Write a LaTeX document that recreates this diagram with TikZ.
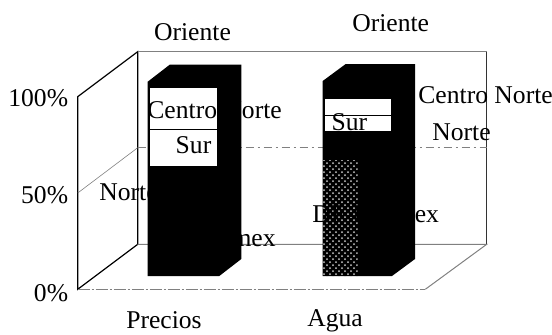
\documentclass[tikz,border=0pt]{standalone}
\usepackage{fontspec}
\setmainfont{Liberation Serif}
\usetikzlibrary{patterns}
\begin{document}
\begin{tikzpicture}[x=0.5pt,y=-0.5pt,
    lbl/.style={inner sep=0pt,font=\fontsize{12.8}{15}\selectfont},
    wall/.style={line width=0.6pt},
    grid/.style={gray,line width=0.5pt},
    seg/.style={fill=white,draw=black,line width=0.4pt}]
  \useasboundingbox (0,0) rectangle (552,334);
  % walls and floor
  \draw[wall] (77.7,96.7) -- (137.7,51.7) -- (137.7,244.3) -- (77.7,289.3) -- cycle;
  \draw[grid] (137.7,51.7) -- (486.7,51.7);
  \draw[wall,black!80] (486.7,51.7) -- (486.7,244.3);
  \draw[grid] (137.7,244.3) -- (486.7,244.3) -- (425.3,289.3);
  \draw[grid,dash pattern=on 6pt off 1pt on 1pt off 1pt] (77.7,289.3) -- (425.3,289.3);
  \draw[grid,line width=0.3pt] (77.7,193) -- (137.7,147.7);
  \draw[grid,line width=0.4pt,dash pattern=on 4pt off 2pt on 1pt off 2pt] (137.7,147.7) -- (486.7,147.7);
  % bars
  \fill (147.7,276) -- (147.7,81.7) -- (169.7,64.7) -- (241.3,64.7)
    -- (241.3,259) -- (219.3,276) -- cycle;
  \draw[seg] (149.3,87.7) rectangle (217.3,129.3);
  \draw[seg] (149.3,129.3) rectangle (217.3,166);
  \fill (322.7,276) -- (322.7,81) -- (345.7,64) -- (415,64)
    -- (415,259) -- (392,276) -- cycle;
  \draw[seg] (324,98.3) rectangle (391.7,115);
  \draw[seg] (324,115) rectangle (391.7,131.7);
  \fill[pattern=crosshatch dots,pattern color=gray!40] (323,160) rectangle (357.7,276);
  % labels
  \draw
    (68.5,106) node[lbl,anchor=base east] (p100){100\%}
    (68.5,203) node[lbl,anchor=base east] (p50){50\%}
    (68.5,301.7) node[lbl,anchor=base east] (p0){0\%}
    (164,328.5) node[lbl,anchor=base] (precios){Precios}
    (335,326.5) node[lbl,anchor=base] (agua){Agua};
  \draw
    (192.5,40) node[lbl,anchor=base] (or1){Oriente}
    (147,118) node[lbl,anchor=base west] (cn1){Centro Norte}
    (211.7,153) node[lbl,anchor=base east] (sur1){Sur}
    (99,200) node[lbl,anchor=base west] (no1){Norte}
    (276,246.7) node[lbl,anchor=base east] (df1){DF-Edomex};
  \draw
    (390.7,31.7) node[lbl,anchor=base] (or2){Oriente}
    (418,103) node[lbl,anchor=base west] (cn2){Centro Norte}
    (349.3,130.5) node[lbl,anchor=base] (sur2){Sur}
    (432,140) node[lbl,anchor=base west] (no2){Norte}
    (312,222) node[lbl,anchor=base west] (df2){DF-Edomex};
\end{tikzpicture}
\end{document}
